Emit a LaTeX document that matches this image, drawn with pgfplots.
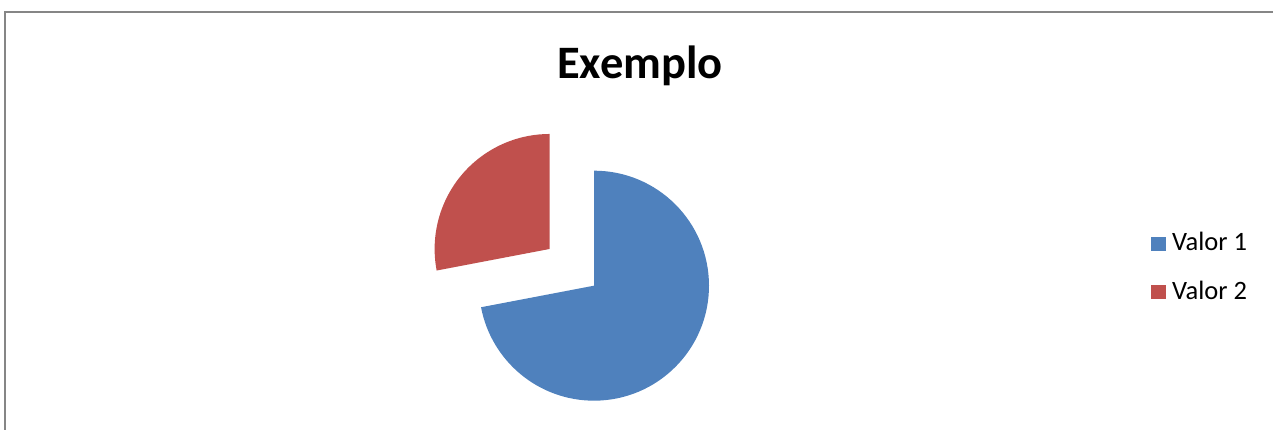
\documentclass[border=0pt]{standalone}
\usepackage{fontspec}
\setmainfont{Carlito}
\usepackage{pgfplots}
\usepackage{pgfplotstable}
\pgfplotsset{compat=1.18}

\definecolor{serieA}{RGB}{79,129,189}
\definecolor{serieB}{RGB}{192,80,77}
\definecolor{moldura}{RGB}{134,134,134}

\pgfplotstableread[col sep=comma]{
rotulo,valor
Valor 1,72
Valor 2,28
}\dados

\begin{document}
\begin{tikzpicture}
\pgfplotstablegetelem{0}{valor}\of\dados \let\va\pgfplotsretval
\pgfplotstablegetelem{1}{valor}\of\dados \let\vb\pgfplotsretval
\pgfplotstablegetelem{0}{rotulo}\of\dados \let\ra\pgfplotsretval
\pgfplotstablegetelem{1}{rotulo}\of\dados \let\rb\pgfplotsretval
\pgfmathsetmacro\total{\va+\vb}
% slices run clockwise from 12 o'clock
\pgfmathsetmacro\fimA{90-360*(\va/\total)}
\pgfmathsetmacro\meioB{\fimA-180*(\vb/\total)}
\begin{axis}[
    x=0.4pt, y=0.4pt,
    xmin=0, xmax=1273, ymin=0, ymax=430,
    hide axis, clip=false,
]
\path (axis cs:0,0) rectangle (axis cs:1273,430);
% chart frame (cut off at right and bottom)
\draw[moldura, line width=0.8pt, overlay]
    (axis cs:1290,418) -- (axis cs:5,418) -- (axis cs:5,-20);
% pie
\fill[serieA] (axis cs:594,144.3) -- ++(90:46pt)
    arc[start angle=90, end angle=\fimA, radius=46pt] -- cycle;
\fill[serieB] (axis cs:594,144.3) ++(\meioB:23.04pt) -- ++(\fimA:46pt)
    arc[start angle=\fimA, end angle=-270, radius=46pt] -- cycle;
% title
\node[anchor=base, inner sep=0pt, font=\fontsize{18.6}{22}\selectfont\bfseries]
    at (axis cs:640,351.7) {Exemplo};
% legend
\fill[serieA] (axis cs:1151,179) rectangle (axis cs:1165.5,193.3);
\node[anchor=base west, inner sep=0pt, font=\fontsize{10.6}{13}\selectfont]
    at (axis cs:1171.5,179) {\ra};
\fill[serieB] (axis cs:1151,130.7) rectangle (axis cs:1165.5,145);
\node[anchor=base west, inner sep=0pt, font=\fontsize{10.6}{13}\selectfont]
    at (axis cs:1171.5,130.7) {\rb};
\end{axis}
\end{tikzpicture}
\end{document}
